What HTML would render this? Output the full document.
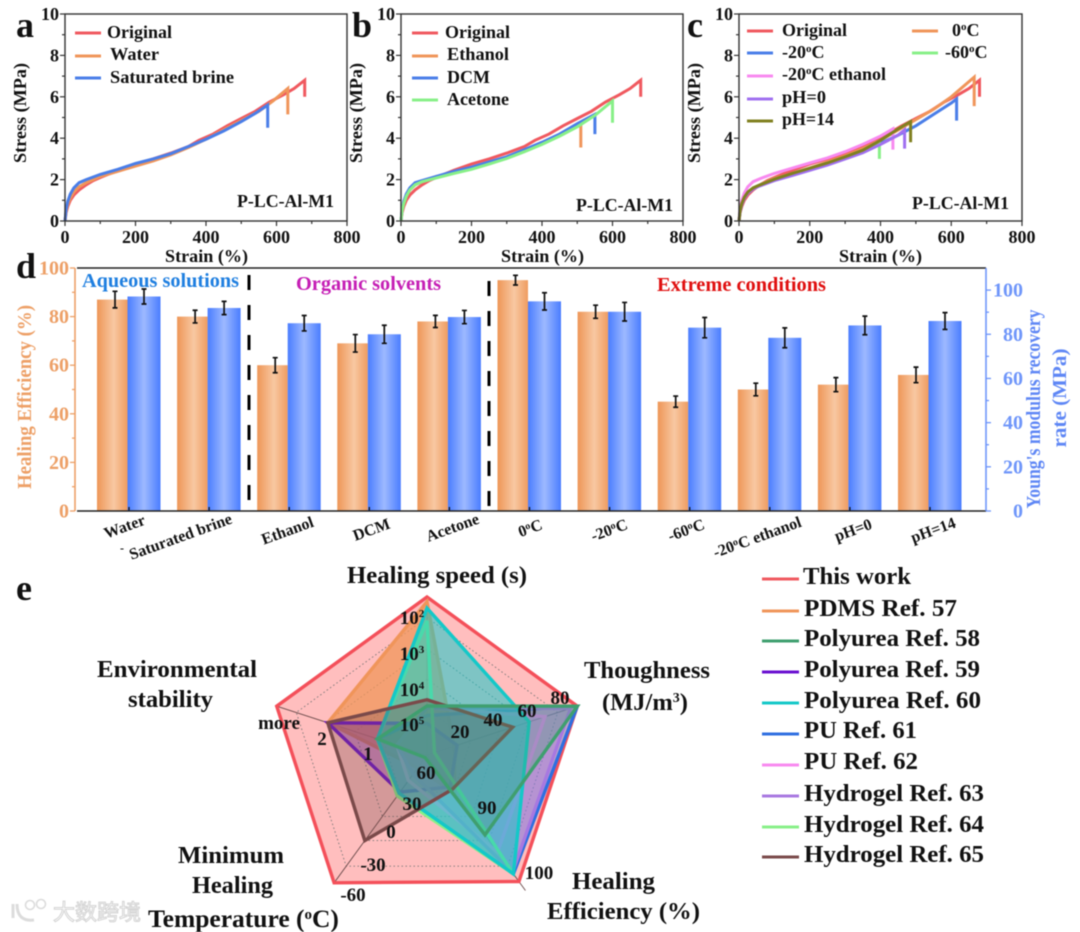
<!DOCTYPE html>
<html lang="en">
<head>
<meta charset="utf-8">
<title>Stress-strain, healing efficiency and radar comparison</title>
<style>
html,body{margin:0;padding:0;background:#fff;}
svg{display:block;filter:blur(0.45px);}
text{font-family:"Liberation Serif","Noto Serif CJK SC",serif;font-weight:700;fill:#111;}
.wm{font-family:"Liberation Sans","Noto Sans CJK SC",sans-serif;}
</style>
</head>
<body>
<svg id="figure" xmlns="http://www.w3.org/2000/svg" width="1080" height="932" viewBox="0 0 1080 932">
<rect x="0" y="0" width="1080" height="932" fill="#fff"/>

<!-- panel letters -->
<text x="16" y="37" font-size="36">a</text>
<text x="352" y="37" font-size="36">b</text>
<text x="687" y="37" font-size="36">c</text>
<text x="16" y="278" font-size="36">d</text>
<text x="16" y="600" font-size="36">e</text>

<g id="panelA"></g>
<g id="panelB"></g>
<g id="panelC"></g>

<!-- panel a text -->
<g>
<text transform="translate(26,113) rotate(-90)" text-anchor="middle" font-size="18" textLength="100" lengthAdjust="spacingAndGlyphs">Stress (MPa)</text>
<text x="165" y="262" font-size="18" textLength="83" lengthAdjust="spacingAndGlyphs">Strain (%)</text>
<text x="237" y="207" font-size="18" textLength="97" lengthAdjust="spacingAndGlyphs">P-LC-Al-M1</text>
<line x1="75" x2="101" y1="33" y2="33" stroke="#f0595f" stroke-width="3"/>
<line x1="75" x2="101" y1="56" y2="56" stroke="#f0955a" stroke-width="3"/>
<line x1="75" x2="101" y1="78" y2="78" stroke="#4a7ee8" stroke-width="3"/>
<text x="107" y="38" font-size="18" textLength="65" lengthAdjust="spacingAndGlyphs">Original</text>
<text x="110" y="60" font-size="18" textLength="49" lengthAdjust="spacingAndGlyphs">Water</text>
<text x="110" y="83" font-size="18" textLength="124" lengthAdjust="spacingAndGlyphs">Saturated brine</text>
</g>

<!-- panel b text -->
<g>
<text transform="translate(362,113) rotate(-90)" text-anchor="middle" font-size="18" textLength="100" lengthAdjust="spacingAndGlyphs">Stress (MPa)</text>
<text x="501" y="262" font-size="18" textLength="83" lengthAdjust="spacingAndGlyphs">Strain (%)</text>
<text x="576" y="211" font-size="18" textLength="97" lengthAdjust="spacingAndGlyphs">P-LC-Al-M1</text>
<line x1="412" x2="438" y1="33" y2="33" stroke="#f0595f" stroke-width="3"/>
<line x1="412" x2="438" y1="56" y2="56" stroke="#f0955a" stroke-width="3"/>
<line x1="412" x2="438" y1="78" y2="78" stroke="#4a7ee8" stroke-width="3"/>
<line x1="412" x2="438" y1="100" y2="100" stroke="#88f088" stroke-width="3"/>
<text x="445" y="38" font-size="18" textLength="65" lengthAdjust="spacingAndGlyphs">Original</text>
<text x="447" y="60" font-size="18" textLength="62" lengthAdjust="spacingAndGlyphs">Ethanol</text>
<text x="447" y="83" font-size="18" textLength="43" lengthAdjust="spacingAndGlyphs">DCM</text>
<text x="447" y="105" font-size="18" textLength="62" lengthAdjust="spacingAndGlyphs">Acetone</text>
</g>

<!-- panel c text -->
<g>
<text transform="translate(700,113) rotate(-90)" text-anchor="middle" font-size="18" textLength="100" lengthAdjust="spacingAndGlyphs">Stress (MPa)</text>
<text x="839" y="262" font-size="18" textLength="83" lengthAdjust="spacingAndGlyphs">Strain (%)</text>
<text x="912" y="209" font-size="18" textLength="97" lengthAdjust="spacingAndGlyphs">P-LC-Al-M1</text>
<line x1="747" x2="773" y1="31" y2="31" stroke="#f0595f" stroke-width="3"/>
<line x1="747" x2="773" y1="53" y2="53" stroke="#4a7ee8" stroke-width="3"/>
<line x1="747" x2="773" y1="76" y2="76" stroke="#f88af0" stroke-width="3"/>
<line x1="747" x2="773" y1="99" y2="99" stroke="#a070f0" stroke-width="3"/>
<line x1="747" x2="773" y1="121" y2="121" stroke="#808020" stroke-width="3"/>
<line x1="912" x2="938" y1="31" y2="31" stroke="#f0955a" stroke-width="3"/>
<line x1="912" x2="938" y1="53" y2="53" stroke="#88f088" stroke-width="3"/>
<text x="782" y="36" font-size="18" textLength="65" lengthAdjust="spacingAndGlyphs">Original</text>
<text x="782" y="58" font-size="18">-20<tspan dy="-6" font-size="11">o</tspan><tspan dy="6">C</tspan></text>
<text x="782" y="80" font-size="18">-20<tspan dy="-6" font-size="11">o</tspan><tspan dy="6">C ethanol</tspan></text>
<text x="782" y="103" font-size="18" textLength="44" lengthAdjust="spacingAndGlyphs">pH=0</text>
<text x="782" y="125" font-size="18" textLength="52" lengthAdjust="spacingAndGlyphs">pH=14</text>
<text x="952" y="36" font-size="18">0<tspan dy="-6" font-size="11">o</tspan><tspan dy="6">C</tspan></text>
<text x="945" y="58" font-size="18">-60<tspan dy="-6" font-size="11">o</tspan><tspan dy="6">C</tspan></text>
</g>

<!-- panel d -->
<defs>
<linearGradient id="orangeBar" x1="0" x2="1" y1="0" y2="0"><stop offset="0" stop-color="#ee9657"/><stop offset="0.55" stop-color="#f8c8a2"/><stop offset="1" stop-color="#ef9c60"/></linearGradient>
<linearGradient id="blueBar" x1="0" x2="1" y1="0" y2="0"><stop offset="0" stop-color="#4a7dff"/><stop offset="0.5" stop-color="#9db9ff"/><stop offset="1" stop-color="#4a7dff"/></linearGradient>
</defs>
<g id="panelD"></g>
<g>
<text transform="translate(31,397) rotate(-90)" text-anchor="middle" font-size="20" style="fill:#eda067" textLength="184" lengthAdjust="spacingAndGlyphs">Healing Efficiency (%)</text>
<text transform="translate(1040,409) rotate(-90)" text-anchor="middle" font-size="20" style="fill:#5f87f5" textLength="199" lengthAdjust="spacingAndGlyphs">Young's modulus recovery</text>
<text transform="translate(1066,398) rotate(-90)" text-anchor="middle" font-size="20" style="fill:#5f87f5" textLength="99" lengthAdjust="spacingAndGlyphs">rate (MPa)</text>
<text x="82" y="287" font-size="20" style="fill:#1f7fe0" textLength="157" lengthAdjust="spacingAndGlyphs">Aqueous solutions</text>
<text x="296" y="290" font-size="20" style="fill:#c51fb5" textLength="145" lengthAdjust="spacingAndGlyphs">Organic solvents</text>
<text x="657" y="291" font-size="20" style="fill:#e01010" textLength="169" lengthAdjust="spacingAndGlyphs">Extreme conditions</text>
<line x1="249" x2="249" y1="275" y2="506" stroke="#000" stroke-width="3" stroke-dasharray="15 15"/>
<line x1="489" x2="489" y1="281" y2="511" stroke="#000" stroke-width="3" stroke-dasharray="15 15"/>
<text transform="translate(125,528) rotate(-20)" text-anchor="middle" dominant-baseline="middle" font-size="16">Water</text>
<text x="120" y="552" font-size="12">-</text>
<text transform="translate(181,538) rotate(-20)" text-anchor="middle" dominant-baseline="middle" font-size="16">Saturated brine</text>
<text transform="translate(288,532) rotate(-20)" text-anchor="middle" dominant-baseline="middle" font-size="16">Ethanol</text>
<text transform="translate(372,531) rotate(-20)" text-anchor="middle" dominant-baseline="middle" font-size="16">DCM</text>
<text transform="translate(453,529) rotate(-20)" text-anchor="middle" dominant-baseline="middle" font-size="16">Acetone</text>
<text transform="translate(532,533) rotate(-20)" text-anchor="middle" font-size="16">0<tspan dy="-5" font-size="10">o</tspan><tspan dy="5">C</tspan></text>
<text transform="translate(611,535) rotate(-20)" text-anchor="middle" font-size="16">-20<tspan dy="-5" font-size="10">o</tspan><tspan dy="5">C</tspan></text>
<text transform="translate(688,535) rotate(-20)" text-anchor="middle" font-size="16">-60<tspan dy="-5" font-size="10">o</tspan><tspan dy="5">C</tspan></text>
<text transform="translate(759,542) rotate(-20)" text-anchor="middle" font-size="16">-20<tspan dy="-5" font-size="10">o</tspan><tspan dy="5">C ethanol</tspan></text>
<text transform="translate(855,535) rotate(-20)" text-anchor="middle" font-size="16">pH=0</text>
<text transform="translate(935,535) rotate(-20)" text-anchor="middle" font-size="16">pH=14</text>
</g>

<!-- panel e -->
<g id="panelE"></g>
<g>
<text x="347" y="583" font-size="24.5" textLength="180" lengthAdjust="spacingAndGlyphs">Healing speed (s)</text>
<text x="584" y="678" font-size="24.5" textLength="126" lengthAdjust="spacingAndGlyphs">Thoughness</text>
<text x="602" y="710" font-size="24.5">(MJ/m<tspan dy="-8" font-size="14">3</tspan><tspan dy="8">)</tspan></text>
<text x="97" y="677" font-size="24.5" textLength="160" lengthAdjust="spacingAndGlyphs">Environmental</text>
<text x="128" y="707" font-size="24.5" textLength="85" lengthAdjust="spacingAndGlyphs">stability</text>
<text x="178" y="863" font-size="24.5" textLength="106" lengthAdjust="spacingAndGlyphs">Minimum</text>
<text x="192" y="893" font-size="24.5" textLength="81" lengthAdjust="spacingAndGlyphs">Healing</text>
<text x="148" y="927" font-size="25.5">Temperature (<tspan dy="-8" font-size="15">o</tspan><tspan dy="8">C)</tspan></text>
<text x="572" y="889" font-size="24.5" textLength="83" lengthAdjust="spacingAndGlyphs">Healing</text>
<text x="547" y="919" font-size="24.5" textLength="153" lengthAdjust="spacingAndGlyphs">Efficiency (%)</text>
<g font-size="19" text-anchor="middle">
<text x="412" y="624">10<tspan dy="-7" font-size="11">2</tspan></text>
<text x="412" y="660">10<tspan dy="-7" font-size="11">3</tspan></text>
<text x="412" y="696">10<tspan dy="-7" font-size="11">4</tspan></text>
<text x="412" y="731">10<tspan dy="-7" font-size="11">5</tspan></text>
</g>
<g font-size="19" text-anchor="middle">
<text x="460" y="738">20</text>
<text x="493" y="726">40</text>
<text x="527" y="717">60</text>
<text x="560" y="704">80</text>
<text x="426" y="779">60</text>
<text x="487" y="814">90</text>
<text x="539" y="879">100</text>
<text x="412" y="810">30</text>
<text x="391" y="838">0</text>
<text x="373" y="871">-30</text>
<text x="353" y="901">-60</text>
<text x="368" y="760">1</text>
<text x="322" y="745">2</text>
<text x="279" y="729">more</text>
</g>
</g>

<!-- panel e legend -->
<g font-size="24.5">
<line x1="762" x2="799" y1="579" y2="579" stroke="#f0595f" stroke-width="3"/>
<line x1="762" x2="799" y1="611" y2="611" stroke="#f0955a" stroke-width="3"/>
<line x1="762" x2="799" y1="641" y2="641" stroke="#3f9f6f" stroke-width="3"/>
<line x1="762" x2="799" y1="672" y2="672" stroke="#6a10d0" stroke-width="3"/>
<line x1="762" x2="799" y1="703" y2="703" stroke="#14c8c8" stroke-width="3"/>
<line x1="762" x2="799" y1="734" y2="734" stroke="#2f6fe0" stroke-width="3"/>
<line x1="762" x2="799" y1="765" y2="765" stroke="#f88af0" stroke-width="3"/>
<line x1="762" x2="799" y1="796" y2="796" stroke="#a878e0" stroke-width="3"/>
<line x1="762" x2="799" y1="827" y2="827" stroke="#88f088" stroke-width="3"/>
<line x1="762" x2="799" y1="857" y2="857" stroke="#7a4a4a" stroke-width="3"/>
<text x="803" y="584" textLength="108" lengthAdjust="spacingAndGlyphs">This work</text>
<text x="804" y="616" textLength="153" lengthAdjust="spacingAndGlyphs">PDMS Ref. 57</text>
<text x="804" y="646" textLength="176" lengthAdjust="spacingAndGlyphs">Polyurea Ref. 58</text>
<text x="804" y="677" textLength="176" lengthAdjust="spacingAndGlyphs">Polyurea Ref. 59</text>
<text x="804" y="708" textLength="177" lengthAdjust="spacingAndGlyphs">Polyurea Ref. 60</text>
<text x="804" y="738" textLength="113" lengthAdjust="spacingAndGlyphs">PU Ref. 61</text>
<text x="804" y="769" textLength="114" lengthAdjust="spacingAndGlyphs">PU Ref. 62</text>
<text x="804" y="801" textLength="180" lengthAdjust="spacingAndGlyphs">Hydrogel Ref. 63</text>
<text x="804" y="832" textLength="180" lengthAdjust="spacingAndGlyphs">Hydrogel Ref. 64</text>
<text x="804" y="862" textLength="180" lengthAdjust="spacingAndGlyphs">Hydrogel Ref. 65</text>
</g>

<!-- watermark -->
<g>
<path d="M13 904 L13 918 M17 904 Q17 922 34 920" fill="none" stroke="#dcdcdc" stroke-width="3"/>
<circle cx="30" cy="905" r="4.5" fill="none" stroke="#dcdcdc" stroke-width="1.6"/>
<circle cx="41" cy="904" r="4.5" fill="none" stroke="#dcdcdc" stroke-width="1.6"/>
<text class="wm" x="53" y="920" font-size="22" style="fill:#fff;stroke:#d4d4d4;stroke-width:1;font-weight:400" textLength="88" lengthAdjust="spacingAndGlyphs">大数跨境</text>
</g>
</svg>

<script>
// ---- Panels a-c: strain / stress data ----
const strainTicks = [0, 200, 400, 600, 800];
const stressTicks = [0, 2, 4, 6, 8, 10];

const originalStrain = [0,3,8,15,25,40,60,80,100,150,200,250,300,350,380,420,460,500,540,580,620,650,680,680];
const originalStress = [0,0.4,0.7,1.0,1.25,1.5,1.75,1.95,2.1,2.45,2.75,3.0,3.28,3.6,3.9,4.2,4.6,4.95,5.3,5.75,6.1,6.4,6.8,6.0];
const waterStrain = [0,3,8,15,25,40,60,100,150,200,250,300,350,400,450,500,550,590,632,632];
const waterStress = [0,0.45,0.8,1.1,1.4,1.65,1.85,2.15,2.4,2.65,2.9,3.2,3.55,3.95,4.4,4.85,5.3,5.8,6.4,5.15];
const brineStrain = [0,3,8,15,25,40,60,100,150,200,250,300,350,400,450,500,540,575,575];
const brineStress = [0,0.55,0.95,1.3,1.6,1.85,2.0,2.25,2.5,2.78,3.0,3.25,3.6,3.95,4.35,4.8,5.2,5.6,4.5];
const ethanolStrain = [0,3,8,15,25,40,60,100,150,200,250,300,350,400,450,510,510];
const ethanolStress = [0,0.5,0.85,1.2,1.5,1.75,1.9,2.15,2.35,2.55,2.78,3.05,3.4,3.75,4.15,4.65,3.55];
const dcmStrain = [0,3,8,15,25,40,60,100,150,200,250,300,350,400,450,500,550,550];
const dcmStress = [0,0.55,0.95,1.3,1.6,1.85,1.95,2.15,2.4,2.6,2.85,3.1,3.45,3.8,4.2,4.7,5.15,4.2];
const acetoneStrain = [0,3,8,15,25,40,60,100,150,200,250,300,350,400,450,500,550,600,600];
const acetoneStress = [0,0.5,0.85,1.2,1.5,1.75,1.9,2.08,2.3,2.5,2.75,3.02,3.35,3.7,4.1,4.55,5.1,5.8,4.75];
const zeroCStrain = [0,3,8,15,25,40,60,100,150,200,250,300,350,400,450,500,550,600,665,665];
const zeroCStress = [0,0.45,0.8,1.1,1.35,1.6,1.75,2.05,2.3,2.55,2.85,3.15,3.5,3.9,4.4,4.9,5.4,6.0,6.95,5.55];
const minus20Strain = [0,3,8,15,25,40,60,100,150,200,250,300,350,400,450,500,550,600,615,615];
const minus20Stress = [0,0.45,0.8,1.1,1.35,1.55,1.72,2.0,2.25,2.5,2.75,3.02,3.35,3.75,4.15,4.6,5.15,5.7,5.9,4.85];
const minus60Strain = [0,3,8,15,25,40,60,100,150,200,250,300,350,397,397];
const minus60Stress = [0,0.5,0.85,1.15,1.4,1.6,1.75,2.02,2.28,2.52,2.78,3.06,3.4,3.85,3.0];
const minus20EthStrain = [0,3,8,15,25,40,60,100,150,200,250,300,350,400,435,435];
const minus20EthStress = [0,0.6,1.0,1.35,1.65,1.9,2.05,2.3,2.55,2.8,3.05,3.35,3.7,4.1,4.45,3.45];
const ph0Strain = [0,3,8,15,25,40,60,100,150,200,250,300,350,400,450,468,468];
const ph0Stress = [0,0.45,0.8,1.1,1.35,1.55,1.7,1.95,2.2,2.45,2.7,3.0,3.3,3.7,4.15,4.4,3.5];
const ph14Strain = [0,3,8,15,25,40,60,100,150,200,250,300,350,400,450,485,485];
const ph14Stress = [0,0.5,0.85,1.15,1.4,1.6,1.75,2.02,2.3,2.55,2.8,3.1,3.42,3.9,4.45,4.8,3.8];

// ---- Panel d data ----
const conditions = ['Water','Saturated brine','Ethanol','DCM','Acetone','0C','-20C','-60C','-20C ethanol','pH=0','pH=14'];
const healingEfficiency = [87,80,60,69,78,95,82,45,50,52,56];
const healingError = [3.4,2.6,3.1,3.6,2.5,2.0,2.7,2.3,2.6,2.9,3.2];
const modulusRecovery = [97.1,91.9,85,80,87.8,94.9,90.2,83,78.4,84,86];
const modulusError = [3.4,3.0,3.5,4.1,3.0,3.9,4.2,4.6,4.5,4.2,3.8];
const efficiencyTicks = [0,20,40,60,80,100];
const modulusTicks = [0,20,40,60,80,100];

// ---- Panel e data: radial score per axis (speed, toughness, efficiency, temperature, stability) ----
const thisWorkScores = [1,1,0.99,1,1];
const pdmsScores = [0.97,0.18,0.3,0.1,0.66];
const polyurea58Scores = [0.31,1,0.625,0.02,0.33];
const polyurea59Scores = [0.2,0.2,0.25,0.29,0.66];
const polyurea60Scores = [0.93,0.68,0.93,0.3,0.33];
const pu61Scores = [0.25,1,0.93,0.3,0.33];
const pu62Scores = [0.3,0.785,0.76,0.2,0.2];
const hydrogel63Scores = [0.3,0.955,0.92,0.15,0.2];
const hydrogel64Scores = [0.85,0.05,0.93,0.32,0.33];
const hydrogel65Scores = [0.35,0.57,0.27,0.67,0.66];
const radarRings = [0.29,0.48,0.67,0.87];

const NS = 'http://www.w3.org/2000/svg';
function mk(parent, tag, attrs, text) {
  const el = document.createElementNS(NS, tag);
  for (const k in attrs) el.setAttribute(k, attrs[k]);
  if (text !== undefined) el.textContent = text;
  parent.appendChild(el);
  return el;
}

function drawStressPanel(groupId, box, series) {
  const g = document.getElementById(groupId);
  const sx = v => box.left + (box.right - box.left) * v / 800;
  const sy = v => box.bottom - (box.bottom - box.top) * v / 10;
  for (const s of series) {
    const pts = s.strain.map((x, i) => sx(x).toFixed(1) + ',' + sy(s.stress[i]).toFixed(1)).join(' ');
    const line = mk(g, 'polyline', {points: pts, fill: 'none', stroke: s.color, 'stroke-width': 3, 'stroke-linejoin': 'miter'});
    
    
  }
  const frame = mk(g, 'rect', {x: box.left, y: box.top, width: box.right - box.left, height: box.bottom - box.top, fill: 'none', stroke: '#333', 'stroke-width': 1.4});
  
  
  for (let v = 0; v <= 800; v += 100) {
    const major = v % 200 === 0;
    const t = mk(g, 'line', {x1: sx(v), x2: sx(v), y1: box.bottom, y2: box.bottom + (major ? 5 : 3), stroke: '#333', 'stroke-width': 1.2});
    
    
  }
  for (let v = 0; v <= 10; v += 1) {
    const major = v % 2 === 0;
    const t = mk(g, 'line', {x1: box.left - (major ? 5 : 3), x2: box.left, y1: sy(v), y2: sy(v), stroke: '#333', 'stroke-width': 1.2});
    
    
  }
  for (const v of strainTicks) {
    const t = mk(g, 'text', {x: sx(v), y: box.bottom + 22, 'text-anchor': 'middle', 'font-size': 18}, String(v));
    
    
  }
  for (const v of stressTicks) {
    const t = mk(g, 'text', {x: box.left - 6, y: sy(v) + 6, 'text-anchor': 'end', 'font-size': 18}, String(v));
    
    
  }
}

const RED = '#f0595f', ORANGE = '#f0955a', BLUE = '#4a7ee8', GREEN = '#88f088', PINK = '#f88af0', PURPLE = '#a070f0', OLIVE = '#808020';

drawStressPanel('panelA', {left: 65, right: 347, top: 14, bottom: 221}, [
  {key: 'original', color: RED, strain: originalStrain, stress: originalStress},
  {key: 'water', color: ORANGE, strain: waterStrain, stress: waterStress},
  {key: 'saturated-brine', color: BLUE, strain: brineStrain, stress: brineStress}
]);
drawStressPanel('panelB', {left: 401, right: 683, top: 14, bottom: 221}, [
  {key: 'original', color: RED, strain: originalStrain, stress: originalStress},
  {key: 'ethanol', color: ORANGE, strain: ethanolStrain, stress: ethanolStress},
  {key: 'dcm', color: BLUE, strain: dcmStrain, stress: dcmStress},
  {key: 'acetone', color: GREEN, strain: acetoneStrain, stress: acetoneStress}
]);
drawStressPanel('panelC', {left: 739, right: 1022, top: 14, bottom: 221}, [
  {key: 'original', color: RED, strain: originalStrain, stress: originalStress},
  {key: '0c', color: ORANGE, strain: zeroCStrain, stress: zeroCStress},
  {key: 'minus-20c', color: BLUE, strain: minus20Strain, stress: minus20Stress},
  {key: 'minus-60c', color: GREEN, strain: minus60Strain, stress: minus60Stress},
  {key: 'minus-20c-ethanol', color: PINK, strain: minus20EthStrain, stress: minus20EthStress},
  {key: 'ph0', color: PURPLE, strain: ph0Strain, stress: ph0Stress},
  {key: 'ph14', color: OLIVE, strain: ph14Strain, stress: ph14Stress}
]);

// ---- Panel d ----
(function () {
  const g = document.getElementById('panelD');
  const top = 268, bottom = 511, leftX = 75, rightX = 986;
  const yLeft = v => bottom - (bottom - top) * v / 100;
  const yRight = v => bottom - (bottom - top) * v / 110;
  const groupX = i => 129 + 80.1 * i;
  const ORANGE_AXIS = '#eda067', BLUE_AXIS = '#6f96fa';

  conditions.forEach((name, i) => {
    const c = groupX(i);
    const o = mk(g, 'rect', {x: c - 32, y: yLeft(healingEfficiency[i]), width: 30.5, height: bottom - yLeft(healingEfficiency[i]), fill: 'url(#orangeBar)'});
    
    
    const b = mk(g, 'rect', {x: c - 1.5, y: yRight(modulusRecovery[i]), width: 33, height: bottom - yRight(modulusRecovery[i]), fill: 'url(#blueBar)'});
    
    
  });
  conditions.forEach((name, i) => {
    const c = groupX(i);
    const drawErr = (x, yHi, yLo) => {
      const p = mk(g, 'path', {d: `M${x - 2.5} ${yHi}H${x + 2.5}M${x} ${yHi}V${yLo}M${x - 2.5} ${yLo}H${x + 2.5}`, fill: 'none', stroke: '#111', 'stroke-width': 1.7});
      return p;
    };
    const e1 = drawErr(c - 14, yLeft(healingEfficiency[i] + healingError[i]), yLeft(healingEfficiency[i] - healingError[i]));
    
    
    const e2 = drawErr(c + 15, yRight(modulusRecovery[i] + modulusError[i]), yRight(modulusRecovery[i] - modulusError[i]));
    
    
    const t = mk(g, 'line', {x1: c, x2: c, y1: bottom - 4, y2: bottom, stroke: '#111', 'stroke-width': 1.3});
    
    
  });

  const topLine = mk(g, 'line', {x1: 77, x2: rightX, y1: top, y2: top, stroke: '#222', 'stroke-width': 1.5});
  
  
  const baseLine = mk(g, 'line', {x1: 77, x2: rightX, y1: bottom, y2: bottom, stroke: '#222', 'stroke-width': 1.5});
  
  
  const leftAxis = mk(g, 'line', {x1: leftX, x2: leftX, y1: top, y2: bottom, stroke: ORANGE_AXIS, 'stroke-width': 1.6});
  
  
  const rightAxis = mk(g, 'line', {x1: rightX, x2: rightX, y1: top, y2: bottom, stroke: BLUE_AXIS, 'stroke-width': 1.6});
  
  

  for (let v = 0; v <= 100; v += 10) {
    const t = mk(g, 'line', {x1: leftX - (v % 20 === 0 ? 5 : 3), x2: leftX, y1: yLeft(v), y2: yLeft(v), stroke: ORANGE_AXIS, 'stroke-width': 1.3});
    
    
    const r = mk(g, 'line', {x1: rightX, x2: rightX + (v % 20 === 0 ? 5 : 3), y1: yRight(v), y2: yRight(v), stroke: BLUE_AXIS, 'stroke-width': 1.3});
    
    
  }
  for (const v of efficiencyTicks) {
    const t = mk(g, 'text', {x: 69, y: yLeft(v) + 6.5, 'text-anchor': 'end', 'font-size': 20, style: 'fill:' + ORANGE_AXIS}, String(v));
    
    
  }
  for (const v of modulusTicks) {
    const t = mk(g, 'text', {x: 1023, y: yRight(v) + 6.5, 'text-anchor': 'end', 'font-size': 20, style: 'fill:' + BLUE_AXIS}, String(v));
    
    
  }
})();

// ---- Panel e ----
(function () {
  const g = document.getElementById('panelE');
  const cx = 427, cy = 755, R = 158;
  const point = (axis, score) => {
    const a = -Math.PI / 2 + axis * 2 * Math.PI / 5;
    return [cx + R * score * Math.cos(a), cy + R * score * Math.sin(a)];
  };
  const poly = scores => scores.map((s, i) => point(i, s).map(n => n.toFixed(1)).join(',')).join(' ');

  const layers = [
    {key: 'this-work', color: '#f4505a', scores: thisWorkScores, fill: 0.36},
    {key: 'pdms-ref-57', color: '#f0955a', scores: pdmsScores, fill: 0.75},
    {key: 'polyurea-ref-59', color: '#6a10d0', scores: polyurea59Scores, fill: 0.3},
    {key: 'pu-ref-61', color: '#2f6fe0', scores: pu61Scores, fill: 0.3},
    {key: 'pu-ref-62', color: '#f88af0', scores: pu62Scores, fill: 0.25},
    {key: 'hydrogel-ref-63', color: '#a878e0', scores: hydrogel63Scores, fill: 0.4},
    {key: 'hydrogel-ref-64', color: '#88f088', scores: hydrogel64Scores, fill: 0.25},
    {key: 'polyurea-ref-60', color: '#14c8c8', scores: polyurea60Scores, fill: 0.55},
    {key: 'hydrogel-ref-65', color: '#7a4a4a', scores: hydrogel65Scores, fill: 0.32},
    {key: 'polyurea-ref-58', color: '#3f9f6f', scores: polyurea58Scores, fill: 0.3}
  ];

  const red = layers[0];
  const bg = mk(g, 'polygon', {points: poly(red.scores), fill: '#ff4a4a', 'fill-opacity': red.fill, stroke: 'none'});
  
  

  for (const r of radarRings) {
    const ring = mk(g, 'polygon', {points: poly([r, r, r, r, r]), fill: 'none', stroke: '#777', 'stroke-width': 0.9, 'stroke-dasharray': '1.5 2.5'});
    
    
  }
  for (let i = 0; i < 5; i++) {
    const end = point(i, i === 2 ? 1.06 : 1);
    const spoke = mk(g, 'line', {x1: cx, y1: cy, x2: end[0], y2: end[1], stroke: '#6b4b4b', 'stroke-width': 0.9});
    
    
  }
  for (const l of layers) {
    const p = mk(g, 'polygon', {points: poly(l.scores), fill: l === red ? 'none' : l.color, 'fill-opacity': l.fill, stroke: l.color, 'stroke-width': 3.4, 'stroke-linejoin': 'miter'});
    
    
  }
})();
</script>
</body>
</html>
